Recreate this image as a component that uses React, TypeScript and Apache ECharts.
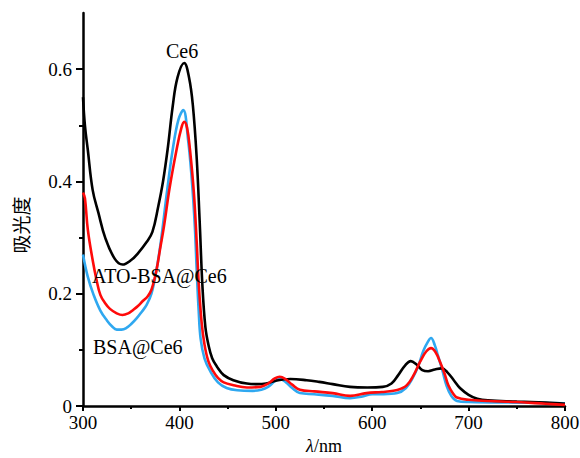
import React, { useEffect, useRef } from "react";
import * as echarts from "echarts";

const ce6: [number, number][] = [
  [300, 0.55], [302, 0.5], [305, 0.456], [310, 0.385], [316, 0.344], [323, 0.3],
  [333, 0.262], [341, 0.252], [350, 0.26], [357, 0.272], [366, 0.292], [372, 0.31],
  [378, 0.355], [383, 0.4], [388, 0.46], [393, 0.533], [398, 0.585], [405, 0.611],
  [410, 0.585], [414, 0.535], [418, 0.44], [421, 0.33], [424, 0.21], [427, 0.14],
  [430, 0.11], [434, 0.085], [439, 0.07], [446, 0.055], [456, 0.046], [470, 0.04],
  [480, 0.039], [490, 0.04], [500, 0.045], [515, 0.048], [532, 0.046], [545, 0.043],
  [559, 0.039], [577, 0.034], [595, 0.033], [611, 0.034], [620, 0.04], [627, 0.055],
  [634, 0.072], [640, 0.08], [646, 0.074], [652, 0.064], [658, 0.062], [665, 0.065],
  [672, 0.067], [678, 0.06], [685, 0.045], [691, 0.032], [700, 0.02], [709, 0.013],
  [720, 0.01], [750, 0.008], [780, 0.006], [800, 0.004],
];

const atoBsaCe6: [number, number][] = [
  [300, 0.38], [302, 0.37], [305, 0.314], [310, 0.26], [314, 0.225], [318, 0.198],
  [323, 0.183], [328, 0.173], [335, 0.165], [341, 0.162], [347, 0.165], [352, 0.171],
  [357, 0.178], [362, 0.187], [367, 0.195], [371, 0.207], [376, 0.24], [380, 0.28],
  [384, 0.32], [390, 0.39], [397, 0.456], [402, 0.495], [405, 0.506], [408, 0.495],
  [411, 0.456], [415, 0.38], [418, 0.29], [420, 0.22], [423, 0.15], [426, 0.11],
  [430, 0.08], [435, 0.062], [440, 0.05], [446, 0.042], [456, 0.037], [470, 0.033],
  [484, 0.034], [492, 0.04], [499, 0.049], [504, 0.052], [510, 0.048], [517, 0.038],
  [525, 0.029], [540, 0.026], [559, 0.023], [577, 0.018], [594, 0.023], [610, 0.025],
  [622, 0.027], [630, 0.031], [636, 0.037], [643, 0.055], [650, 0.08], [656, 0.097],
  [661, 0.103], [666, 0.095], [670, 0.08], [675, 0.058], [679, 0.037], [684, 0.022],
  [688, 0.015], [700, 0.011], [720, 0.009], [750, 0.007], [780, 0.004], [800, 0.002],
];

const bsaCe6: [number, number][] = [
  [300, 0.27], [305, 0.23], [311, 0.198], [318, 0.17], [325, 0.152], [330, 0.142],
  [335, 0.136], [340, 0.136], [345, 0.139], [350, 0.146], [356, 0.157], [361, 0.168],
  [366, 0.18], [371, 0.2], [376, 0.24], [381, 0.296], [387, 0.38], [393, 0.456],
  [399, 0.51], [404, 0.527], [409, 0.474], [413, 0.4], [416, 0.32], [418, 0.24],
  [420, 0.17], [422, 0.12], [426, 0.085], [432, 0.062], [440, 0.042], [449, 0.032],
  [460, 0.028], [476, 0.027], [485, 0.029], [492, 0.034], [499, 0.044], [504, 0.048],
  [510, 0.043], [517, 0.032], [525, 0.023], [540, 0.021], [559, 0.018], [577, 0.014],
  [590, 0.017], [600, 0.021], [612, 0.021], [626, 0.023], [635, 0.032], [642, 0.05],
  [648, 0.072], [653, 0.098], [658, 0.115], [661, 0.121], [665, 0.108], [668, 0.091],
  [673, 0.062], [677, 0.037], [682, 0.018], [688, 0.009], [700, 0.007], [750, 0.006],
  [800, 0.005],
];

const yMajorTicks = [0, 0.2, 0.4, 0.6];
const yMinorTicks = [0.1, 0.3, 0.5];

const SERIF = "'Liberation Serif', 'Times New Roman', serif";

export default function App() {
  const ref = useRef<HTMLDivElement>(null);
  useEffect(() => {
    if (!ref.current) return;
    const chart = echarts.init(ref.current, null, { renderer: "svg" });
    const lineStyle = (color: string) => ({ color, width: 2.6 });
    chart.setOption({
      animation: false,
      backgroundColor: "#ffffff",
      grid: { left: 83, right: 15, top: 13, bottom: 52, containLabel: false, outerBoundsMode: "none" },
      xAxis: {
        type: "value",
        min: 300,
        max: 800,
        interval: 100,
        name: "{i|λ}/nm",
        nameLocation: "middle",
        nameGap: 30,
        nameTextStyle: {
          fontFamily: SERIF,
          fontSize: 18,
          color: "#000",
          lineHeight: 18,
          rich: { i: { fontFamily: SERIF, fontSize: 18, lineHeight: 18, fontStyle: "italic", color: "#000" } },
        },
        axisLine: { lineStyle: { color: "#000", width: 2.5 } },
        axisTick: { length: 5, lineStyle: { color: "#000", width: 2 } },
        minorTick: { show: true, splitNumber: 2, length: 3, lineStyle: { color: "#000", width: 2 } },
        axisLabel: { fontFamily: SERIF, fontSize: 19, color: "#000", margin: 7 },
        splitLine: { show: false },
        minorSplitLine: { show: false },
      },
      yAxis: [
        {
          type: "value",
          min: 0,
          max: 0.7,
          axisLine: { show: true, lineStyle: { color: "#000", width: 2.5 } },
          axisTick: { show: true, length: 7, customValues: yMajorTicks, lineStyle: { color: "#000", width: 2 } },
          axisLabel: {
            fontFamily: SERIF,
            fontSize: 19,
            color: "#000",
            margin: 11,
            customValues: yMajorTicks,
            formatter: (v: number) => (v === 0 ? "0" : v.toFixed(1)),
          },
          splitLine: { show: false },
        },
        {
          type: "value",
          min: 0,
          max: 0.7,
          position: "left",
          axisLine: { show: false },
          axisTick: { show: true, length: 4, customValues: yMinorTicks, lineStyle: { color: "#000", width: 2 } },
          axisLabel: { show: false },
          splitLine: { show: false },
        },
      ],
      series: [
        { name: "BSA@Ce6", type: "line", data: bsaCe6, smooth: 0.4, showSymbol: false, lineStyle: lineStyle("#2fa8f0"), z: 2 },
        { name: "Ce6", type: "line", data: ce6, smooth: 0.4, showSymbol: false, lineStyle: lineStyle("#000000"), z: 3 },
        { name: "ATO-BSA@Ce6", type: "line", data: atoBsaCe6, smooth: 0.4, showSymbol: false, lineStyle: lineStyle("#ff0a0a"), z: 4 },
      ],
      graphic: [
        {
          type: "text",
          x: 20,
          y: 225,
          rotation: Math.PI / 2,
          z: 10,
          style: {
            text: "吸光度",
            fontFamily: "'Noto Sans CJK SC', sans-serif",
            fontSize: 19,
            fill: "#000",
            align: "center",
            verticalAlign: "middle",
          },
        },
        { type: "text", left: 166, top: 41, z: 10, style: { text: "Ce6", fontFamily: SERIF, fontSize: 20, fill: "#000" } },
        { type: "text", left: 92, top: 266, z: 10, style: { text: "ATO-BSA@Ce6", fontFamily: SERIF, fontSize: 20, fill: "#000" } },
        { type: "text", left: 93, top: 337, z: 10, style: { text: "BSA@Ce6", fontFamily: SERIF, fontSize: 20, fill: "#000" } },
      ],
    });
    return () => chart.dispose();
  }, []);
  return <div ref={ref} style={{ width: 580, height: 458, position: "absolute", left: 0, top: 0 }} />;
}
